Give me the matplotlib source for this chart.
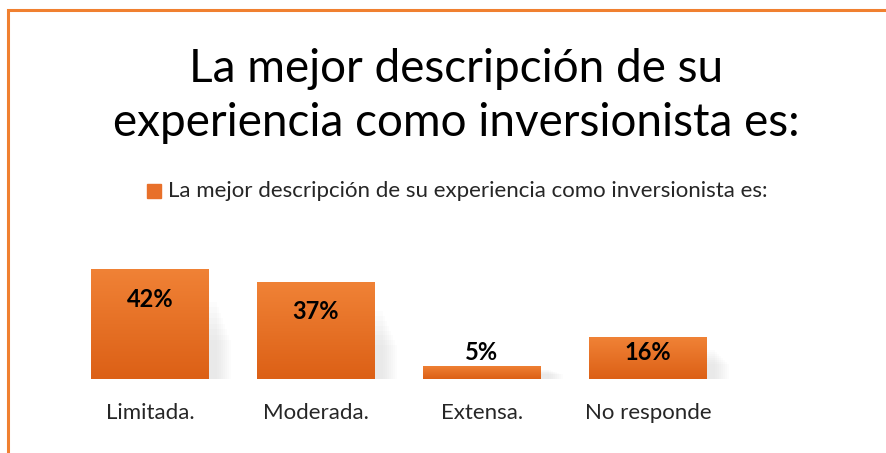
import numpy as np
import matplotlib.pyplot as plt
from matplotlib.colors import LinearSegmentedColormap
from matplotlib.patches import Rectangle

categories = ["Limitada.", "Moderada.", "Extensa.", "No responde"]
values = [0.42, 0.37, 0.05, 0.16]
value_labels = ["42%", "37%", "5%", "16%"]
title = "La mejor descripción de su\nexperiencia como inversionista es:"
series_name = "La mejor descripción de su experiencia como inversionista es:"

plt.rcParams['font.family'] = ['Lato', 'DejaVu Sans']

fig = plt.figure(figsize=(8.86, 4.53), dpi=100)
fig.patch.set_facecolor('white')

# orange frame, only top and left visible
fig.add_artist(Rectangle((8 / 886, -0.05), 1.1, (453 - 10) / 453 + 0.05,
                         transform=fig.transFigure, fill=False,
                         edgecolor='#F08030', linewidth=2.2))

ax = fig.add_axes([67 / 886, 74 / 453, 664 / 886, 159 / 453])
x = np.arange(len(categories))
bars = ax.bar(x, values, width=0.71, color='#E8702A', zorder=3)

grad = LinearSegmentedColormap.from_list('g', ['#DC6016', '#F08236'])
for b in bars:
    # soft shadow to the right
    bx, bw, bh = b.get_x(), b.get_width(), b.get_height()
    for k in range(8):
        ax.add_patch(Rectangle((bx + 0.05 + k * 0.012, 0.0), bw, bh * (0.7 - k * 0.05),
                               color='#999999', alpha=0.025, lw=0, zorder=1))
    im = ax.imshow(np.linspace(0, 1, 100).reshape(-1, 1), cmap=grad, aspect='auto',
                   extent=[bx, bx + bw, 0, bh], origin='lower', zorder=4)
    im.set_clip_path(b)

offsets = [-31, -29, 13, -15]
for xi, v, lab, off in zip(x, values, value_labels, offsets):
    ax.annotate(lab, (xi, v), xytext=(0, off * 0.72), textcoords='offset points',
                ha='center', va='center', fontsize=17, fontweight='bold',
                color='black', zorder=6)

ax.set_xlim(-0.5, 3.5)
ax.set_ylim(0, 0.607)
ax.set_xticks(x)
ax.set_xticklabels(categories, fontsize=16, color='#262626')
ax.tick_params(axis='x', length=0, pad=17)
ax.set_yticks([])
for s in ax.spines.values():
    s.set_visible(False)

fig.text(456 / 886, 1 - 96 / 453, title, ha='center', va='center',
         fontsize=33, color='black', linespacing=1.33)

fig.add_artist(Rectangle((147 / 886, 1 - 198 / 453), 14 / 886, 14 / 453,
                         transform=fig.transFigure, color='#E8702A'))
fig.text(168 / 886, 1 - 191 / 453, series_name, ha='left', va='center',
         fontsize=16, color='#262626')

fig.savefig('out.png', dpi=100)
